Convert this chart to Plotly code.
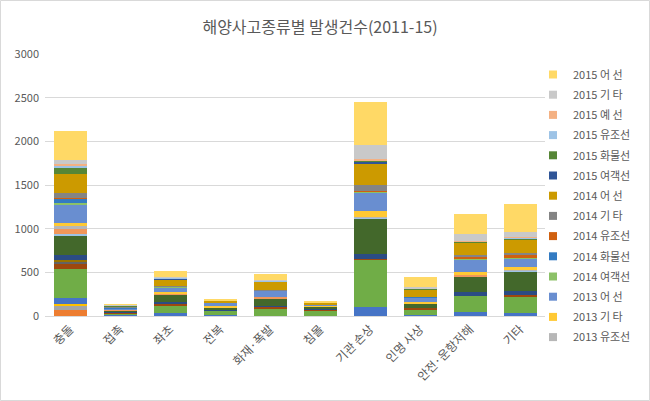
import plotly.graph_objects as go

categories = ["충돌", "접촉", "좌초", "전복", "화재·폭발", "침몰", "기관 손상", "인명 사상", "안전·운항저해", "기타"]

# 2011
s2011_passenger = [0, 0, 0, 0, 0, 0, 0, 0, 0, 0]
s2011_cargo     = [73, 3, 0, 0, 0, 0, 0, 0, 0, 0]
s2011_tanker    = [38, 3, 0, 0, 0, 0, 0, 0, 0, 0]
s2011_tug       = [23, 5, 0, 0, 0, 0, 0, 0, 0, 0]
s2011_other     = [69, 3, 35, 15, 0, 0, 107, 15, 50, 38]
s2011_fishing   = [330, 12, 81, 43, 85, 58, 535, 58, 177, 185]
# 2012
s2012_passenger = [0, 0, 0, 0, 0, 0, 0, 0, 0, 0]
s2012_cargo     = [69, 10, 23, 0, 19, 12, 15, 19, 0, 23]
s2012_tanker    = [20, 3, 0, 0, 0, 0, 0, 0, 0, 0]
s2012_tug       = [20, 4, 0, 0, 0, 0, 0, 0, 0, 0]
s2012_other     = [54, 6, 23, 12, 15, 8, 54, 0, 46, 46]
s2012_fishing   = [230, 14, 85, 27, 81, 35, 409, 54, 181, 216]
# 2013
s2013_passenger = [8, 0, 0, 0, 0, 0, 12, 0, 0, 12]
s2013_cargo     = [58, 6, 12, 0, 12, 0, 0, 0, 12, 0]
s2013_tanker    = [35, 4, 0, 0, 0, 0, 5, 0, 0, 7]
s2013_other     = [35, 4, 19, 12, 0, 8, 65, 15, 35, 31]
s2013_fishing   = [215, 10, 50, 35, 78, 15, 210, 46, 142, 96]
# 2014
s2014_passenger = [12, 2, 15, 0, 0, 0, 10, 0, 12, 12]
s2014_cargo     = [54, 6, 0, 0, 0, 0, 0, 8, 0, 0]
s2014_tanker    = [12, 2, 0, 0, 0, 0, 15, 0, 15, 31]
s2014_other     = [54, 6, 5, 0, 10, 0, 61, 0, 27, 23]
s2014_fishing   = [218, 8, 74, 23, 93, 15, 252, 85, 139, 154]
# 2015
s2015_passenger = [0, 2, 12, 0, 0, 0, 15, 0, 8, 0]
s2015_cargo     = [69, 4, 0, 0, 0, 0, 10, 10, 8, 12]
s2015_tanker    = [23, 2, 5, 0, 8, 0, 8, 0, 0, 11]
s2015_tug       = [23, 5, 0, 0, 0, 0, 10, 8, 12, 12]
s2015_other     = [46, 3, 12, 0, 15, 0, 160, 15, 77, 58]
s2015_fishing   = [326, 6, 66, 31, 66, 23, 500, 119, 225, 310]

y_ticks = [0, 500, 1000, 1500, 2000, 2500, 3000]

# bottom -> top stacking order: (label, values, color, show in legend)
series = [
    ("2011 여객선", s2011_passenger, "#4472C4", False),
    ("2011 화물선", s2011_cargo, "#ED7D31", False),
    ("2011 유조선", s2011_tanker, "#A5A5A5", False),
    ("2011 예 선", s2011_tug, "#FFC000", False),
    ("2011 기 타", s2011_other, "#4674C6", False),
    ("2011 어 선", s2011_fishing, "#70AD47", False),
    ("2012 여객선", s2012_passenger, "#264478", False),
    ("2012 화물선", s2012_cargo, "#9E480E", False),
    ("2012 유조선", s2012_tanker, "#636363", False),
    ("2012 예 선", s2012_tug, "#997300", False),
    ("2012 기 타", s2012_other, "#2B4C84", False),
    ("2012 어 선", s2012_fishing, "#43682B", False),
    ("2013 여객선", s2013_passenger, "#9DC3E6", False),
    ("2013 화물선", s2013_cargo, "#F1975A", False),
    ("2013 유조선", s2013_tanker, "#B7B7B7", True),
    ("2013 기 타", s2013_other, "#FFC934", True),
    ("2013 어 선", s2013_fishing, "#698ED0", True),
    ("2014 여객선", s2014_passenger, "#8CC168", True),
    ("2014 화물선", s2014_cargo, "#337BC2", True),
    ("2014 유조선", s2014_tanker, "#D0600F", True),
    ("2014 기 타", s2014_other, "#848484", True),
    ("2014 어 선", s2014_fishing, "#CC9A00", True),
    ("2015 여객선", s2015_passenger, "#2F5597", True),
    ("2015 화물선", s2015_cargo, "#568636", True),
    ("2015 유조선", s2015_tanker, "#9DC3E6", True),
    ("2015 예 선", s2015_tug, "#F4B183", True),
    ("2015 기 타", s2015_other, "#C9C9C9", True),
    ("2015 어 선", s2015_fishing, "#FFD966", True),
]

FONT = "Noto Sans CJK KR"
GRAY = "#595959"

fig = go.Figure()
for i, (name, vals, color, show) in enumerate(series):
    fig.add_trace(go.Bar(
        x=categories, y=vals, name=name,
        marker=dict(color=color, line=dict(width=0)),
        showlegend=False, legendgroup=f"g{i}",
    ))
# small square legend keys (legend only, no data)
for i, (name, vals, color, show) in enumerate(series):
    if show:
        fig.add_trace(go.Scatter(
            x=[None], y=[None], mode="markers", name=name,
            marker=dict(symbol="square", size=8, color=color),
            showlegend=True, legendgroup=f"g{i}", legendrank=1000 - i,
            hoverinfo="skip",
        ))

# plot area in pixels: x 45..545, y 54..316
L, R, T, B = 45, 105, 54, 85
W, H = 650, 401
pw, ph = W - L - R, H - T - B

fig.update_layout(
    width=W, height=H,
    margin=dict(l=L, r=R, t=T, b=B, autoexpand=False),
    barmode="stack", bargap=0.34,
    paper_bgcolor="white", plot_bgcolor="white",
    font=dict(family=FONT, color=GRAY, size=11),
    title=dict(text="해양사고종류별 발생건수(2011-15)", x=320 / W, xanchor="center",
               y=1 - 27 / H, yanchor="middle",
               font=dict(family=FONT, size=16, color=GRAY)),
    legend=dict(
        xref="container", yref="container",
        x=533 / W, xanchor="left",
        y=1 - 60 / H, yanchor="top",
        traceorder="grouped", tracegroupgap=1.2,
        font=dict(family=FONT, size=11, color=GRAY),
        bgcolor="rgba(0,0,0,0)", itemwidth=30, maxheight=320,
    ),
    xaxis=dict(
        tickangle=-45, tickfont=dict(family=FONT, size=12, color=GRAY),
        showline=False, showgrid=False, ticks="", ticklabelstandoff=3,
    ),
    yaxis=dict(
        range=[0, 3000], tickvals=y_ticks, showgrid=True, gridcolor="#D9D9D9",
        gridwidth=1, zeroline=True, zerolinecolor="#D9D9D9", zerolinewidth=1,
        tickfont=dict(family=FONT, size=11, color=GRAY), ticks="",
        showline=False, ticklabelstandoff=5,
    ),
    shapes=[dict(
        type="rect", xref="paper", yref="paper",
        x0=(0.5 - L) / pw, x1=(W - 0.5 - L) / pw,
        y0=(316 - (H - 0.5)) / ph, y1=(316 - 0.5) / ph,
        line=dict(color="#D9D9D9", width=1), fillcolor="rgba(0,0,0,0)", layer="below",
    )],
)

fig.write_html("out.html")
